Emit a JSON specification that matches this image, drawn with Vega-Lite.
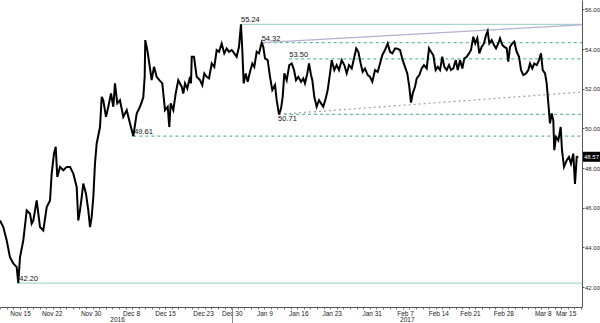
{
  "$schema": "https://vega.github.io/schema/vega-lite/v6.json",
  "width": 582,
  "height": 307,
  "autosize": {"type": "none"},
  "padding": {"left": 0, "top": 0, "right": 18, "bottom": 16},
  "background": "white",
  "config": {
    "view": {"stroke": null},
    "axis": {"title": null, "grid": false, "labelFont": "Liberation Sans", "labelFontSize": 6.5, "labelColor": "#222222", "domainColor": "#555555", "tickColor": "#555555"},
    "text": {"font": "Liberation Sans"}
  },
  "datasets": {
    "px": [
      {"t": -3.03, "p": 45.36}, {"t": -2.53, "p": 45.03}, {"t": -2.02, "p": 44.36}, {"t": -1.52, "p": 43.51}, {"t": -1.02, "p": 43.2}, {"t": -0.5, "p": 43.01}, {"t": -0.26, "p": 42.2}, {"t": 0, "p": 43.5}, {"t": 0.5, "p": 44.36}, {"t": 1.02, "p": 45.87}, {"t": 1.52, "p": 45.7}, {"t": 1.77, "p": 45.2}, {"t": 2.02, "p": 45.36}, {"t": 2.53, "p": 46.37}, {"t": 3.03, "p": 45.03}, {"t": 3.53, "p": 44.86}, {"t": 4.05, "p": 46.04}, {"t": 4.55, "p": 46.37}, {"t": 4.8, "p": 47.73}, {"t": 5.15, "p": 48.73}, {"t": 5.41, "p": 49.07}, {"t": 5.65, "p": 47.55}, {"t": 6.06, "p": 48.06}, {"t": 6.56, "p": 47.89}, {"t": 7.08, "p": 48.06}, {"t": 7.58, "p": 48.06}, {"t": 8.08, "p": 47.72}, {"t": 8.59, "p": 47.05}, {"t": 8.83, "p": 45.36}, {"t": 9.09, "p": 45.87}, {"t": 9.35, "p": 46.54}, {"t": 9.59, "p": 47.22}, {"t": 10.0, "p": 46.71}, {"t": 10.35, "p": 45.87}, {"t": 10.61, "p": 45.03}, {"t": 10.86, "p": 45.53}, {"t": 11.11, "p": 46.54}, {"t": 11.36, "p": 48.23}, {"t": 11.62, "p": 49.24}, {"t": 12.12, "p": 50.07}, {"t": 12.38, "p": 51.59}, {"t": 12.62, "p": 51.42}, {"t": 13.03, "p": 50.58}, {"t": 13.38, "p": 51.09}, {"t": 13.79, "p": 51.76}, {"t": 14.14, "p": 51.09}, {"t": 14.39, "p": 52.27}, {"t": 14.74, "p": 51.26}, {"t": 15.15, "p": 51.42}, {"t": 15.65, "p": 50.58}, {"t": 16.17, "p": 50.92}, {"t": 16.67, "p": 50.25}, {"t": 17.17, "p": 49.61}, {"t": 17.68, "p": 50.75}, {"t": 18.18, "p": 51.09}, {"t": 18.68, "p": 51.56}, {"t": 18.89, "p": 52.6}, {"t": 18.98, "p": 54.45}, {"t": 19.29, "p": 53.95}, {"t": 19.59, "p": 53.27}, {"t": 19.95, "p": 52.43}, {"t": 20.3, "p": 53.1}, {"t": 20.71, "p": 52.6}, {"t": 21.11, "p": 52.43}, {"t": 21.56, "p": 52.27}, {"t": 21.97, "p": 50.92}, {"t": 22.38, "p": 51.09}, {"t": 22.62, "p": 50.07}, {"t": 22.83, "p": 51.26}, {"t": 23.23, "p": 50.92}, {"t": 23.59, "p": 51.76}, {"t": 23.98, "p": 52.43}, {"t": 24.5, "p": 52.1}, {"t": 24.74, "p": 51.76}, {"t": 25.0, "p": 52.27}, {"t": 25.35, "p": 52.01}, {"t": 25.76, "p": 52.6}, {"t": 25.91, "p": 52.27}, {"t": 26.02, "p": 53.61}, {"t": 26.36, "p": 53.61}, {"t": 26.77, "p": 52.6}, {"t": 27.27, "p": 52.43}, {"t": 27.62, "p": 52.18}, {"t": 27.92, "p": 52.77}, {"t": 28.29, "p": 52.6}, {"t": 28.64, "p": 52.52}, {"t": 29.05, "p": 53.27}, {"t": 29.44, "p": 53.1}, {"t": 29.8, "p": 53.95}, {"t": 30.15, "p": 53.86}, {"t": 30.56, "p": 54.28}, {"t": 30.95, "p": 53.78}, {"t": 31.32, "p": 54.03}, {"t": 31.67, "p": 53.86}, {"t": 32.08, "p": 53.95}, {"t": 32.47, "p": 53.78}, {"t": 32.83, "p": 53.61}, {"t": 33.18, "p": 54.11}, {"t": 33.48, "p": 55.24}, {"t": 33.68, "p": 53.95}, {"t": 33.89, "p": 52.27}, {"t": 34.2, "p": 52.77}, {"t": 34.5, "p": 52.35}, {"t": 34.85, "p": 52.85}, {"t": 35.2, "p": 53.27}, {"t": 35.5, "p": 53.1}, {"t": 35.86, "p": 53.86}, {"t": 36.21, "p": 53.78}, {"t": 36.62, "p": 54.32}, {"t": 36.86, "p": 54.11}, {"t": 37.12, "p": 53.53}, {"t": 37.53, "p": 53.44}, {"t": 37.88, "p": 52.6}, {"t": 38.23, "p": 51.93}, {"t": 38.64, "p": 52.18}, {"t": 38.89, "p": 51.42}, {"t": 39.24, "p": 50.71}, {"t": 39.55, "p": 51.0}, {"t": 39.8, "p": 51.59}, {"t": 40.05, "p": 52.77}, {"t": 40.41, "p": 52.43}, {"t": 40.8, "p": 53.19}, {"t": 41.17, "p": 53.27}, {"t": 41.52, "p": 52.94}, {"t": 41.82, "p": 52.43}, {"t": 42.17, "p": 52.6}, {"t": 42.58, "p": 52.35}, {"t": 42.92, "p": 52.52}, {"t": 43.18, "p": 52.27}, {"t": 43.53, "p": 52.77}, {"t": 43.79, "p": 53.27}, {"t": 44.09, "p": 52.69}, {"t": 44.29, "p": 52.43}, {"t": 44.59, "p": 51.59}, {"t": 44.95, "p": 51.09}, {"t": 45.3, "p": 51.42}, {"t": 45.61, "p": 51.26}, {"t": 45.95, "p": 51.09}, {"t": 46.32, "p": 51.51}, {"t": 46.62, "p": 51.93}, {"t": 46.97, "p": 52.77}, {"t": 47.23, "p": 53.44}, {"t": 47.62, "p": 52.94}, {"t": 47.98, "p": 53.19}, {"t": 48.33, "p": 52.94}, {"t": 48.74, "p": 53.44}, {"t": 49.14, "p": 53.19}, {"t": 49.5, "p": 52.77}, {"t": 49.85, "p": 53.19}, {"t": 50.26, "p": 53.02}, {"t": 50.61, "p": 53.53}, {"t": 50.95, "p": 54.03}, {"t": 51.26, "p": 53.86}, {"t": 51.62, "p": 53.27}, {"t": 51.92, "p": 52.85}, {"t": 52.27, "p": 53.02}, {"t": 52.68, "p": 52.69}, {"t": 53.03, "p": 52.6}, {"t": 53.38, "p": 52.35}, {"t": 53.79, "p": 52.94}, {"t": 54.2, "p": 52.85}, {"t": 54.55, "p": 53.27}, {"t": 54.89, "p": 53.69}, {"t": 55.3, "p": 53.95}, {"t": 55.71, "p": 54.28}, {"t": 56.06, "p": 53.86}, {"t": 56.41, "p": 53.78}, {"t": 56.82, "p": 54.03}, {"t": 57.08, "p": 54.03}, {"t": 57.58, "p": 53.95}, {"t": 57.98, "p": 53.44}, {"t": 58.33, "p": 53.1}, {"t": 58.68, "p": 52.77}, {"t": 58.98, "p": 52.1}, {"t": 59.24, "p": 51.3}, {"t": 59.5, "p": 51.76}, {"t": 59.85, "p": 52.1}, {"t": 60.11, "p": 52.52}, {"t": 60.5, "p": 52.69}, {"t": 60.86, "p": 53.02}, {"t": 61.21, "p": 53.19}, {"t": 61.62, "p": 53.02}, {"t": 61.97, "p": 54.03}, {"t": 62.27, "p": 53.86}, {"t": 62.62, "p": 53.69}, {"t": 62.98, "p": 52.94}, {"t": 63.29, "p": 53.1}, {"t": 63.64, "p": 52.94}, {"t": 63.98, "p": 53.61}, {"t": 64.29, "p": 53.1}, {"t": 64.65, "p": 52.94}, {"t": 65.0, "p": 53.19}, {"t": 65.3, "p": 52.94}, {"t": 65.65, "p": 53.02}, {"t": 66.02, "p": 53.44}, {"t": 66.32, "p": 52.94}, {"t": 66.67, "p": 53.44}, {"t": 67.02, "p": 53.02}, {"t": 67.32, "p": 53.53}, {"t": 67.68, "p": 53.61}, {"t": 68.03, "p": 53.78}, {"t": 68.33, "p": 53.95}, {"t": 68.68, "p": 54.62}, {"t": 68.98, "p": 54.28}, {"t": 69.29, "p": 54.54}, {"t": 69.59, "p": 53.78}, {"t": 69.95, "p": 54.11}, {"t": 70.3, "p": 54.28}, {"t": 70.61, "p": 54.7}, {"t": 70.86, "p": 54.9}, {"t": 71.11, "p": 54.28}, {"t": 71.47, "p": 54.45}, {"t": 71.82, "p": 54.2}, {"t": 72.12, "p": 54.03}, {"t": 72.47, "p": 54.28}, {"t": 72.73, "p": 54.54}, {"t": 73.08, "p": 54.2}, {"t": 73.38, "p": 54.11}, {"t": 73.74, "p": 54.03}, {"t": 73.98, "p": 53.36}, {"t": 74.24, "p": 54.11}, {"t": 74.59, "p": 54.28}, {"t": 74.89, "p": 54.37}, {"t": 75.26, "p": 53.86}, {"t": 75.61, "p": 53.61}, {"t": 75.91, "p": 52.94}, {"t": 76.26, "p": 52.69}, {"t": 76.67, "p": 52.77}, {"t": 77.02, "p": 52.94}, {"t": 77.27, "p": 53.27}, {"t": 77.62, "p": 53.02}, {"t": 77.92, "p": 53.27}, {"t": 78.29, "p": 53.19}, {"t": 78.64, "p": 53.44}, {"t": 78.94, "p": 53.78}, {"t": 79.2, "p": 52.94}, {"t": 79.55, "p": 52.77}, {"t": 79.8, "p": 52.27}, {"t": 80.05, "p": 51.26}, {"t": 80.3, "p": 50.25}, {"t": 80.56, "p": 50.75}, {"t": 80.8, "p": 50.41}, {"t": 80.95, "p": 48.9}, {"t": 81.21, "p": 49.57}, {"t": 81.56, "p": 49.4}, {"t": 81.92, "p": 50.07}, {"t": 82.12, "p": 48.9}, {"t": 82.42, "p": 48.06}, {"t": 82.83, "p": 48.39}, {"t": 83.18, "p": 48.56}, {"t": 83.48, "p": 48.22}, {"t": 83.83, "p": 48.73}, {"t": 84.09, "p": 47.2}, {"t": 84.35, "p": 48.56}, {"t": 84.59, "p": 48.57}
    ],
    "lines": [
      {"t0": 33.48, "p0": 55.24, "t1": 85.15, "p1": 55.24, "s": "lvl"},
      {"t0": -0.26, "p0": 42.2, "t1": 85.15, "p1": 42.2, "s": "lvl"},
      {"t0": 36.62, "p0": 54.32, "t1": 85.15, "p1": 54.32, "s": "lvlDash"},
      {"t0": 40.8, "p0": 53.5, "t1": 85.15, "p1": 53.5, "s": "lvlDash"},
      {"t0": 39.1, "p0": 50.71, "t1": 85.15, "p1": 50.71, "s": "lvlDash"},
      {"t0": 17.17, "p0": 49.61, "t1": 85.15, "p1": 49.61, "s": "lvlDash"},
      {"t0": 36.62, "p0": 54.32, "t1": 85.15, "p1": 55.22, "s": "trend"},
      {"t0": 39.24, "p0": 50.71, "t1": 85.15, "p1": 51.83, "s": "trendDash"}
    ],
    "labels": [
      {"t": 33.48, "p": 55.24, "s": "55.24", "b": "above"},
      {"t": 36.62, "p": 54.32, "s": "54.32", "b": "above"},
      {"t": 40.8, "p": 53.5, "s": "53.50", "b": "above"},
      {"t": 39.1, "p": 50.71, "s": "50.71", "b": "below"},
      {"t": 17.3, "p": 49.61, "s": "49.61", "b": "above"},
      {"t": -0.1, "p": 42.2, "s": "42.20", "b": "above"}
    ],
    "last": [{"t": 85.15, "p": 48.57, "s": "48.57"}]
  },
  "resolve": {"axis": {"x": "independent"}},
  "layer": [
    {
      "data": {"name": "lines"},
      "mark": {"type": "rule", "strokeWidth": 1.3},
      "encoding": {
        "x": {"field": "t0", "type": "quantitative", "scale": {"domain": [-3.03, 85.15], "nice": false, "zero": false},
              "axis": {"orient": "bottom", "labels": false, "domain": false, "tickCount": 90, "tickSize": 2, "tickColor": "#777777"}},
        "x2": {"field": "t1"},
        "y": {"field": "p0", "type": "quantitative", "scale": {"domain": [41, 56.47], "nice": false, "zero": false},
              "axis": {"orient": "right", "domain": true, "values": [42, 43, 44, 45, 46, 47, 48, 49, 50, 51, 52, 53, 54, 55, 56],
                       "labelExpr": "datum.value % 2 == 0 ? format(datum.value, '.2f') : ''", "tickSize": 2, "labelPadding": 0.5, "labelFontSize": 6}},
        "y2": {"field": "p1"},
        "color": {"field": "s", "type": "nominal", "legend": null,
                  "scale": {"domain": ["lvl", "lvlDash", "trend", "trendDash"], "range": ["#a6d8cd", "#62bba3", "#b3b3d3", "#a3a3bb"]}},
        "strokeDash": {"field": "s", "type": "nominal", "legend": null,
                  "scale": {"domain": ["lvl", "lvlDash", "trend", "trendDash"], "range": [[1, 0], [3, 3], [1, 0], [2, 3]]}}
      }
    },
    {
      "data": {"name": "px"},
      "mark": {"type": "line", "color": "#000000", "strokeWidth": 2, "strokeJoin": "miter"},
      "encoding": {
        "x": {"field": "t", "type": "quantitative",
              "axis": {"orient": "bottom", "domain": true, "domainColor": "#555555", "tickSize": 0, "labelPadding": 3,
                       "values": [0, 4.8, 10.71, 16.82, 21.97, 27.73, 32.08, 37.02, 42.17, 47.23, 53.29, 58.33, 63.38, 68.18, 73.23, 79.2, 82.68],
                       "labelExpr": "['Nov 15','Nov 22','Nov 30','Dec 8','Dec 15','Dec 23','Dec 30','Jan 9','Jan 16','Jan 23','Jan 31','Feb 7','Feb 14','Feb 21','Feb 28','Mar 8','Mar 15'][indexof([0,4.8,10.71,16.82,21.97,27.73,32.08,37.02,42.17,47.23,53.29,58.33,63.38,68.18,73.23,79.2,82.68], datum.value)]",
                       "labelFlush": false, "labelOverlap": false}},
        "y": {"field": "p", "type": "quantitative"}
      }
    },
    {
      "data": {"name": "labels"},
      "transform": [{"filter": "datum.b == 'above'"}],
      "mark": {"type": "text", "align": "left", "baseline": "bottom", "fontSize": 7.5, "color": "#111111", "dy": 0},
      "encoding": {
        "x": {"field": "t", "type": "quantitative",
              "axis": {"orient": "bottom", "domain": false, "values": [14.7, 32.08, 58.6], "tickSize": 16, "tickColor": "#888888",
                       "tickOpacity": {"condition": {"test": "datum.value == 32.08", "value": 1}, "value": 0},
                       "labelPadding": -6.5, "labelFlush": false, "labelOverlap": false,
                       "labelExpr": "datum.value == 14.7 ? '2016' : datum.value == 58.6 ? '2017' : ''"}},
        "y": {"field": "p", "type": "quantitative"},
        "text": {"field": "s"}
      }
    },
    {
      "data": {"name": "labels"},
      "transform": [{"filter": "datum.b == 'below'"}],
      "mark": {"type": "text", "align": "left", "baseline": "top", "fontSize": 7.5, "color": "#111111", "dy": 1},
      "encoding": {
        "x": {"field": "t", "type": "quantitative", "axis": null},
        "y": {"field": "p", "type": "quantitative"},
        "text": {"field": "s"}
      }
    },
    {
      "data": {"name": "last"},
      "mark": {"type": "point", "shape": "M0.2,-1H3.6V1H0.2Z", "size": 100, "filled": true, "color": "#000000", "opacity": 1, "strokeWidth": 0},
      "encoding": {
        "x": {"field": "t", "type": "quantitative", "axis": null},
        "y": {"field": "p", "type": "quantitative"}
      }
    },
    {
      "data": {"name": "last"},
      "mark": {"type": "text", "align": "left", "baseline": "middle", "fontSize": 6, "color": "#ffffff", "dx": 2},
      "encoding": {
        "x": {"field": "t", "type": "quantitative", "axis": null},
        "y": {"field": "p", "type": "quantitative"},
        "text": {"field": "s"}
      }
    }
  ]
}
